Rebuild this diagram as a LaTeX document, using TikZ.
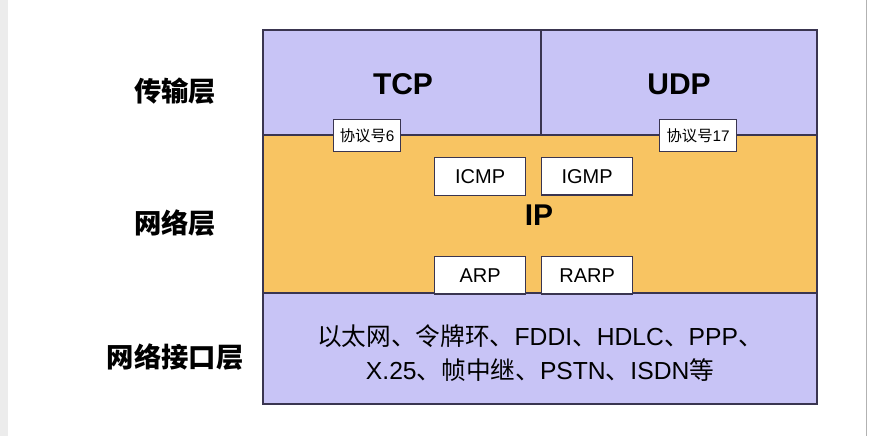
\documentclass[tikz,border=0pt]{standalone}
\usepackage{fontspec}
\setmainfont{Liberation Sans}
\newfontfamily\cjk{Noto Sans CJK SC}
\definecolor{lav}{HTML}{C8C4F6}
\definecolor{org}{HTML}{F8C462}
\definecolor{edge}{HTML}{3A3550}
\begin{document}
\begin{tikzpicture}[x=0.75pt,y=-0.75pt,
  layer/.style={draw=edge,line width=1pt},
  wbox/.style={draw=edge,fill=white,line width=1pt,anchor=north west,inner sep=0pt},
  lbl/.style={font=\cjk\fontsize{20.5}{24}\selectfont\bfseries}]
\useasboundingbox (0,0) rectangle (877,436);
\fill[gray!15] (0,0) rectangle (8,436);
\draw[gray!60] (866,0) -- (866,436);
\path[layer,fill=lav] (263,30) rectangle (817,135);
\path[layer,fill=org] (263,135) rectangle (817,293);
\path[layer,fill=lav] (263,293) rectangle (817,404);
\draw[edge,line width=1pt] (541,30) -- (541,135);
\node[font=\bfseries\fontsize{22.5}{26}\selectfont] (tcp) at (403,84) {TCP};
\node[font=\bfseries\fontsize{22.5}{26}\selectfont] (udp) at (679,84) {UDP};
\node[font=\bfseries\fontsize{22.5}{26}\selectfont] (ip) at (539,215) {IP};
\node[wbox,minimum width=50.25pt,minimum height=24pt,font=\fontsize{11.5}{13}\selectfont] (p6) at (333,119) {{\cjk 协议号}6};
\node[wbox,minimum width=57.75pt,minimum height=24pt,font=\fontsize{11.5}{13}\selectfont] (p17) at (659,119) {{\cjk 协议号}17};
\node[wbox,minimum width=68.25pt,minimum height=28.5pt,font=\fontsize{15}{17}\selectfont] (icmp) at (434,157) {ICMP};
\node[wbox,minimum width=68.25pt,minimum height=28pt,font=\fontsize{15}{17}\selectfont] (igmp) at (541,157) {IGMP};
\node[wbox,minimum width=68.25pt,minimum height=28pt,font=\fontsize{15}{17}\selectfont] (arp) at (434,256) {ARP};
\node[wbox,minimum width=68.25pt,minimum height=28pt,font=\fontsize{15}{17}\selectfont] (rarp) at (541,256) {RARP};
\node[font=\fontsize{18.5}{25}\selectfont,align=center] (link) at (540,353)
 {{\cjk 以太网、令牌环、}FDDI{\cjk 、}HDLC{\cjk 、}PPP{\cjk 、}\\X.25{\cjk 、帧中继、}PSTN{\cjk 、}ISDN{\cjk 等}};
\node[lbl] (l1) at (175,91) {传输层};
\node[lbl] (l2) at (175,223) {网络层};
\node[lbl] (l3) at (175,357) {网络接口层};
\end{tikzpicture}
\end{document}
